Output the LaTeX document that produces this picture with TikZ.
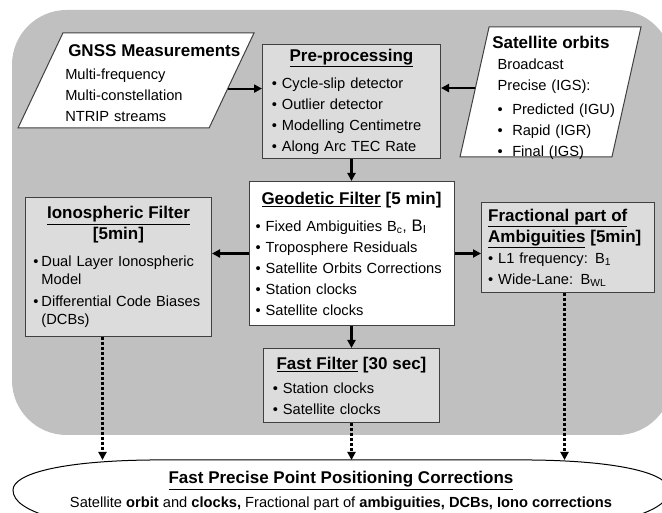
\documentclass[tikz,border=0pt]{standalone}
\usepackage{fontspec}
\setmainfont{Liberation Sans}
\usetikzlibrary{shapes.geometric,arrows.meta,positioning}
\definecolor{bggray}{HTML}{C0C0C0}
\definecolor{boxgray}{HTML}{DCDCDC}
\newcommand{\hd}[1]{{\centering\fontsize{12.75}{15.75}\selectfont\bfseries #1\par}}
\newcommand{\itm}{\textbullet\ }
\begin{document}
\begin{tikzpicture}[x=0.75pt,y=-0.75pt,>={Triangle[length=6pt,width=6pt]},font=\fontsize{11}{15.75}\selectfont]
\tikzstyle{box}=[draw=black!75,line width=0.75pt,fill=boxgray,inner xsep=7pt,inner ysep=0pt,align=left,anchor=north west]
\tikzstyle{pgram}=[draw=black!75,line width=0.75pt,fill=white,trapezium,trapezium stretches body,inner sep=0pt]
\tikzstyle{txt}=[inner sep=0pt,align=left,anchor=north west,text width=135pt]
\tikzstyle{arr}=[line width=1.6pt,->]
\tikzstyle{dotarr}=[line width=1.7pt,dash pattern=on 2pt off 1.75pt,->]
\useasboundingbox (0,0) rectangle (662,513);
\clip (0,0) rectangle (662,513);
\fill[bggray,rounded corners=41pt] (12,10) rectangle (672,435);

% inputs
\node[pgram,trapezium left angle=64.7,trapezium right angle=115.3,minimum width=177pt] (gnss) at (136,80.5) {\rule{0pt}{71.25pt}};
\node[txt] (gnsstxt) at (65,44) {\hspace*{2.25pt}{\fontsize{12.75}{16.5}\selectfont\bfseries GNSS Measurements}\\[1.5pt]
  Multi-frequency\\ Multi-constellation\\ NTRIP streams};
\node[pgram,trapezium left angle=77.4,trapezium right angle=102.6,minimum width=135.75pt] (sat) at (550.5,92) {\rule{0pt}{97.5pt}};
\node[txt] (sattxt) at (492,36) {{\fontsize{12.75}{15}\selectfont\bfseries Satellite orbits}\\
  \hspace*{4pt}Broadcast\\ \hspace*{4pt}Precise (IGS):\\[2pt]
  \hspace*{4pt}\makebox[11pt][l]{\textbullet}Predicted (IGU)\\ \hspace*{4pt}\makebox[11pt][l]{\textbullet}Rapid (IGR)\\
  \hspace*{4pt}\makebox[11pt][l]{\textbullet}Final (IGS)};

% filters
\node[box,text width=119.5pt,minimum height=85.5pt] (pre) at (262,44) {\hd{\underline{Pre-processing}}\vspace{4.5pt}
  \itm Cycle-slip detector\\ \itm Outlier detector\\ \itm Modelling Centimetre\\ \itm Along Arc TEC Rate};
\node[box,fill=white,inner xsep=5pt,text width=143.75pt,minimum height=108pt,below=16.5pt of pre] (geo) {\hd{\underline{Geodetic Filter} [5 min]}\vspace{4.5pt}
  \itm Fixed Ambiguities B\textsubscript{c}, {\fontsize{12.5}{15}\selectfont B\textsubscript{I}}\\ \itm Troposphere Residuals\\
  \itm Satellite Orbits Corrections\\ \itm Station clocks\\ \itm Satellite clocks};
\node[box,text width=118pt,minimum height=55.5pt,below=16.5pt of geo] (fast) {\hd{\underline{Fast Filter} [30 sec]}\vspace{2.25pt}
  \itm Station clocks\\ \itm Satellite clocks};
\node[box,inner xsep=6pt,text width=127.5pt,minimum height=104.25pt] (iono) at (25,197) {\hd{\underline{Ionospheric Filter}\\ {[5min]}}\vspace{4.5pt}
  \makebox[6pt][l]{\textbullet}Dual Layer Ionospheric\\[-2.25pt] \hspace*{6pt}Model\\[0.75pt]
  \makebox[6pt][l]{\textbullet}Differential Code Biases\\[-2.25pt] \hspace*{6pt}(DCBs)};
\node[box,inner xsep=5pt,text width=119.75pt,minimum height=67.5pt] (frac) at (481,202) {{\fontsize{12.75}{15.75}\selectfont\bfseries
  \underline{Fractional part of}\\ \underline{Ambiguities} [5min]\par}
  \itm L1 frequency: B\textsubscript{1}\\ \itm Wide-Lane: B\textsubscript{WL}};

% output
\coordinate (top) at (341,460);
\draw[line width=0.75pt] (150,460) -- (532,460) .. controls (622,461) and (669,474) .. (669,490)
  .. controls (669,502) and (655,510) .. (630,518) .. controls (560,545) and (122,545) .. (52,518)
  .. controls (27,510) and (13,502) .. (13,490) .. controls (13,474) and (60,461) .. (150,460) -- cycle;
\node[align=center,inner sep=0pt] (corr) at (341,491) {{\fontsize{12.75}{15}\selectfont\bfseries\underline{Fast Precise Point Positioning Corrections}}\\[2pt]
  Satellite \textbf{orbit} and \textbf{clocks,} Fractional part of \textbf{ambiguities, DCBs, Iono corrections}};

\draw[arr] (gnss.-5) -- (gnss.-5 -| pre.west);
\draw[arr] (sat.177) -- (sat.177 -| pre.east);
\draw[arr] (pre) -- (geo);
\draw[arr] (geo) -- (fast);
\draw[arr] (geo.west) -- (geo.west -| iono.east);
\draw[arr] (geo.east) -- (geo.east -| frac.west);
\draw[dotarr] ([xshift=-12pt]iono.south) -- ([xshift=-12pt]iono.south |- top);
\draw[dotarr] (fast.south) -- (fast.south |- top);
\draw[dotarr] ([xshift=-2.6pt]frac.south) -- ([xshift=-2.6pt]frac.south |- top);
\end{tikzpicture}
\end{document}
